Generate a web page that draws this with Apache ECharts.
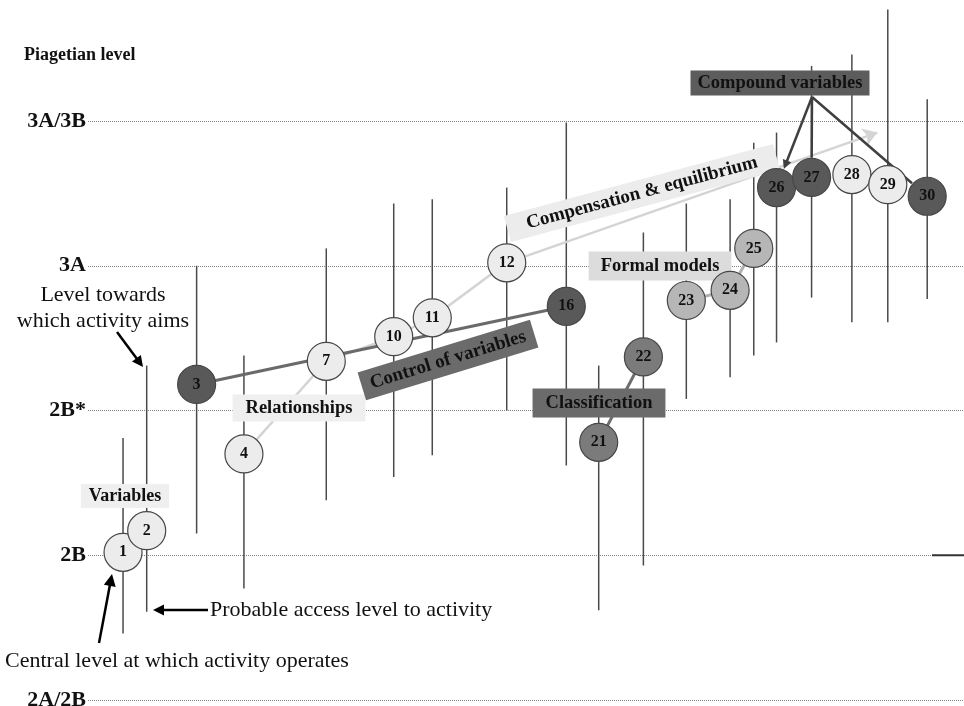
<!DOCTYPE html>
<html><head><meta charset="utf-8">
<script src="https://cdn.jsdelivr.net/npm/echarts@6/dist/echarts.min.js"></script>
<style>html,body{margin:0;padding:0;background:#fff}#c{width:964px;height:706px}</style>
</head><body><div id="c"></div>
<script>
// ---- data ----
const levelNames = ['2A/2B', '2B', '2B*', '3A', '3A/3B'];
const activities = [1, 2, 3, 4, 7, 10, 11, 12, 16, 21, 22, 23, 24, 25, 26, 27, 28, 29, 30];
const position = [4.0, 6.7, 12.4, 17.8, 27.2, 34.9, 39.3, 47.8, 54.6, 58.3, 63.4, 68.3, 73.3, 76.0, 78.6, 82.6, 87.2, 91.3, 95.8];
const centralLevel = [1.02, 1.17, 2.18, 1.70, 2.34, 2.51, 2.64, 3.02, 2.72, 1.78, 2.37, 2.76, 2.83, 3.12, 3.54, 3.61, 3.63, 3.56, 3.48];
const aimLevel = [1.81, 2.31, 3.00, 2.38, 3.12, 3.43, 3.46, 3.54, 3.99, 2.31, 3.23, 3.43, 3.46, 3.85, 3.92, 4.38, 4.46, 4.77, 4.15];
const accessLevel = [0.46, 0.61, 1.15, 0.77, 1.38, 1.54, 1.69, 2.00, 1.62, 0.62, 0.93, 2.08, 2.23, 2.38, 2.47, 2.78, 2.61, 2.61, 2.77];
const strand = ['light', 'light', 'dark', 'light', 'light', 'light', 'light', 'light', 'dark', 'class', 'class', 'formal', 'formal', 'formal', 'dark', 'dark', 'light', 'light', 'dark'];
const controlOfVariablesPath = [3, 16];
const relationshipsPath = [4, 7, 10, 11, 12];
const compensationTarget = [90.1, 3.92];
const classificationPath = [21, 22];
const formalModelsPath = [23, 24, 25];
const compoundVariables = [26, 27, 30];

// ---- styles ----
const SERIF = '"Liberation Serif", "DejaVu Serif", serif';
const fillOf = { light: '#ececec', dark: '#595959', class: '#7b7b7b', formal: '#b6b6b6' };
const R = 19;

const idx = n => activities.indexOf(n);
const pt = n => [position[idx(n)], centralLevel[idx(n)]];

const chart = echarts.init(document.getElementById('c'), null, { renderer: 'canvas' });
chart.setOption({
  animation: false,
  backgroundColor: '#ffffff',
  title: {
    text: 'Piagetian level', left: 19, top: 41,
    textStyle: { fontFamily: SERIF, fontWeight: 'bold', fontSize: 18, color: '#111' }
  },
  grid: { left: 88, right: 0, top: -23.75, bottom: 6, containLabel: false, outerBoundsMode: 'none' },
  xAxis: { type: 'value', min: 0, max: 100, show: false },
  yAxis: {
    type: 'value', min: 0, max: 5, interval: 1,
    axisLine: { show: false }, axisTick: { show: false },
    axisLabel: {
      margin: 2,
      formatter: v => levelNames[v] !== undefined ? levelNames[v] : '',
      fontFamily: SERIF, fontWeight: 'bold', fontSize: 22, color: '#111'
    },
    splitLine: { lineStyle: { type: 'dotted', color: '#808080', width: 1 } }
  },
  series: [
    {
      type: 'custom', z: 2,
      encode: { x: 0, y: [1, 2] },
      data: activities.map((a, i) => [position[i], accessLevel[i], aimLevel[i]]),
      renderItem: (params, api) => {
        const top = api.coord([api.value(0), api.value(2)]);
        const bot = api.coord([api.value(0), api.value(1)]);
        return { type: 'line', shape: { x1: top[0], y1: top[1], x2: bot[0], y2: bot[1] },
          style: { stroke: '#4a4a4a', lineWidth: 1.5 } };
      }
    },
    {
      type: 'lines', coordinateSystem: 'cartesian2d', polyline: true, z: 3,
      data: [
        { coords: relationshipsPath.map(pt), lineStyle: { color: '#d4d4d4', width: 2.5, opacity: 1 } },
        { coords: controlOfVariablesPath.map(pt), lineStyle: { color: '#6a6a6a', width: 3, opacity: 1 } },
        { coords: classificationPath.map(pt), lineStyle: { color: '#6e6e6e', width: 3, opacity: 1 } },
        { coords: formalModelsPath.map(pt), lineStyle: { color: '#b0b0b0', width: 3, opacity: 1 } }
      ],
      lineStyle: { opacity: 1 }
    },
    {
      type: 'lines', coordinateSystem: 'cartesian2d', z: 3,
      symbol: ['none', 'arrow'], symbolSize: 14,
      data: [{ coords: [pt(12), compensationTarget] }],
      lineStyle: { color: '#d4d4d4', width: 2.5, opacity: 1 }
    },
    {
      type: 'scatter', z: 20, symbolSize: 2 * R,
      data: activities.map((a, i) => ({
        name: String(a), value: [position[i], centralLevel[i]],
        itemStyle: { color: fillOf[strand[i]], borderColor: '#474747', borderWidth: 1.2, opacity: 1 }
      })),
      label: {
        show: true, position: 'inside', formatter: '{b}',
        fontFamily: SERIF, fontWeight: 'bold', fontSize: 16, color: '#111'
      }
    }
  ]
});

// ---- annotations (pixel placed) ----
const px = v => chart.convertToPixel({ gridIndex: 0 }, v);
function arrow(x1, y1, x2, y2, color, w, head) {
  const dx = x2 - x1, dy = y2 - y1, L = Math.hypot(dx, dy), ux = dx / L, uy = dy / L;
  const hl = head, hw = head * 0.5;
  const bx = x2 - ux * hl, by = y2 - uy * hl;
  return [
    { type: 'line', z: 15, shape: { x1, y1, x2: bx + ux * 1, y2: by + uy * 1 }, style: { stroke: color, lineWidth: w } },
    { type: 'polygon', z: 15, shape: { points: [[x2, y2], [bx - uy * hw, by + ux * hw], [bx + uy * hw, by - ux * hw]] }, style: { fill: color } }
  ];
}
function box(text, x, y, opt) {
  return {
    type: 'text', z: 10, x, y, rotation: (opt.rot || 0) * Math.PI / 180,
    style: {
      text, x: 0, y: 0, align: 'center', verticalAlign: 'middle',
      font: 'bold ' + opt.size + 'px ' + SERIF, fill: '#111',
      backgroundColor: opt.bg, padding: opt.pad
    }
  };
}
const g = [];
g.push(box('Variables', 125, 496, { size: 18, bg: '#efefef', pad: [3, 8] }));
g.push(box('Relationships', 299, 408, { size: 18.5, bg: '#efefef', pad: [4, 13] }));
g.push(box('Control of variables', 448, 360, { size: 19, bg: '#6b6b6b', pad: [5, 9], rot: 17 }));
g.push(box('Compensation & equilibrium', 642, 193, { size: 19, bg: '#ececec', pad: [4, 20], rot: 15 }));
g.push(box('Formal models', 660, 266, { size: 18.5, bg: '#dcdcdc', pad: [5, 12] }));
g.push(box('Classification', 599, 403, { size: 18.5, bg: '#6b6b6b', pad: [5, 13] }));
g.push(box('Compound variables', 780, 83, { size: 18.5, bg: '#5c5c5c', pad: [3, 7] }));

// compound variables connectors
const anchor = [812, 97];
compoundVariables.forEach((n, k) => {
  const c = px(pt(n));
  const dx = c[0] - anchor[0], dy = c[1] - anchor[1], L = Math.hypot(dx, dy);
  const ex = c[0] - dx / L * (R + 1), ey = c[1] - dy / L * (R + 1);
  if (k === 0) g.push(...arrow(anchor[0], anchor[1], ex, ey, '#3f3f3f', 2.5, 9));
  else g.push({ type: 'line', z: 15, shape: { x1: anchor[0], y1: anchor[1], x2: ex, y2: ey }, style: { stroke: '#3f3f3f', lineWidth: 2.5 } });
});

// explanatory texts
const annoFont = '22px ' + SERIF;
g.push({ type: 'text', z: 15, x: 103, y: 308, style: { text: 'Level towards\nwhich activity aims', align: 'center', verticalAlign: 'middle', font: annoFont, lineHeight: 26, fill: '#111' } });
g.push({ type: 'text', z: 15, x: 210, y: 610, style: { text: 'Probable access level to activity', align: 'left', verticalAlign: 'middle', font: annoFont, fill: '#111' } });
g.push({ type: 'text', z: 15, x: 5, y: 661, style: { text: 'Central level at which activity operates', align: 'left', verticalAlign: 'middle', font: annoFont, fill: '#111' } });
g.push(...arrow(117, 332, 143, 367, '#000', 2.5, 11));
g.push(...arrow(208, 610, 153, 610, '#000', 2.5, 11));
g.push(...arrow(99, 643, 112, 574, '#000', 2.5, 12));

// right edge mark on 2B level
const y2B = px([100, 1])[1];
g.push({ type: 'line', z: 5, shape: { x1: 932, y1: y2B, x2: 964, y2: y2B }, style: { stroke: '#333', lineWidth: 2 } });

chart.setOption({ graphic: g });
</script>
</body></html>
